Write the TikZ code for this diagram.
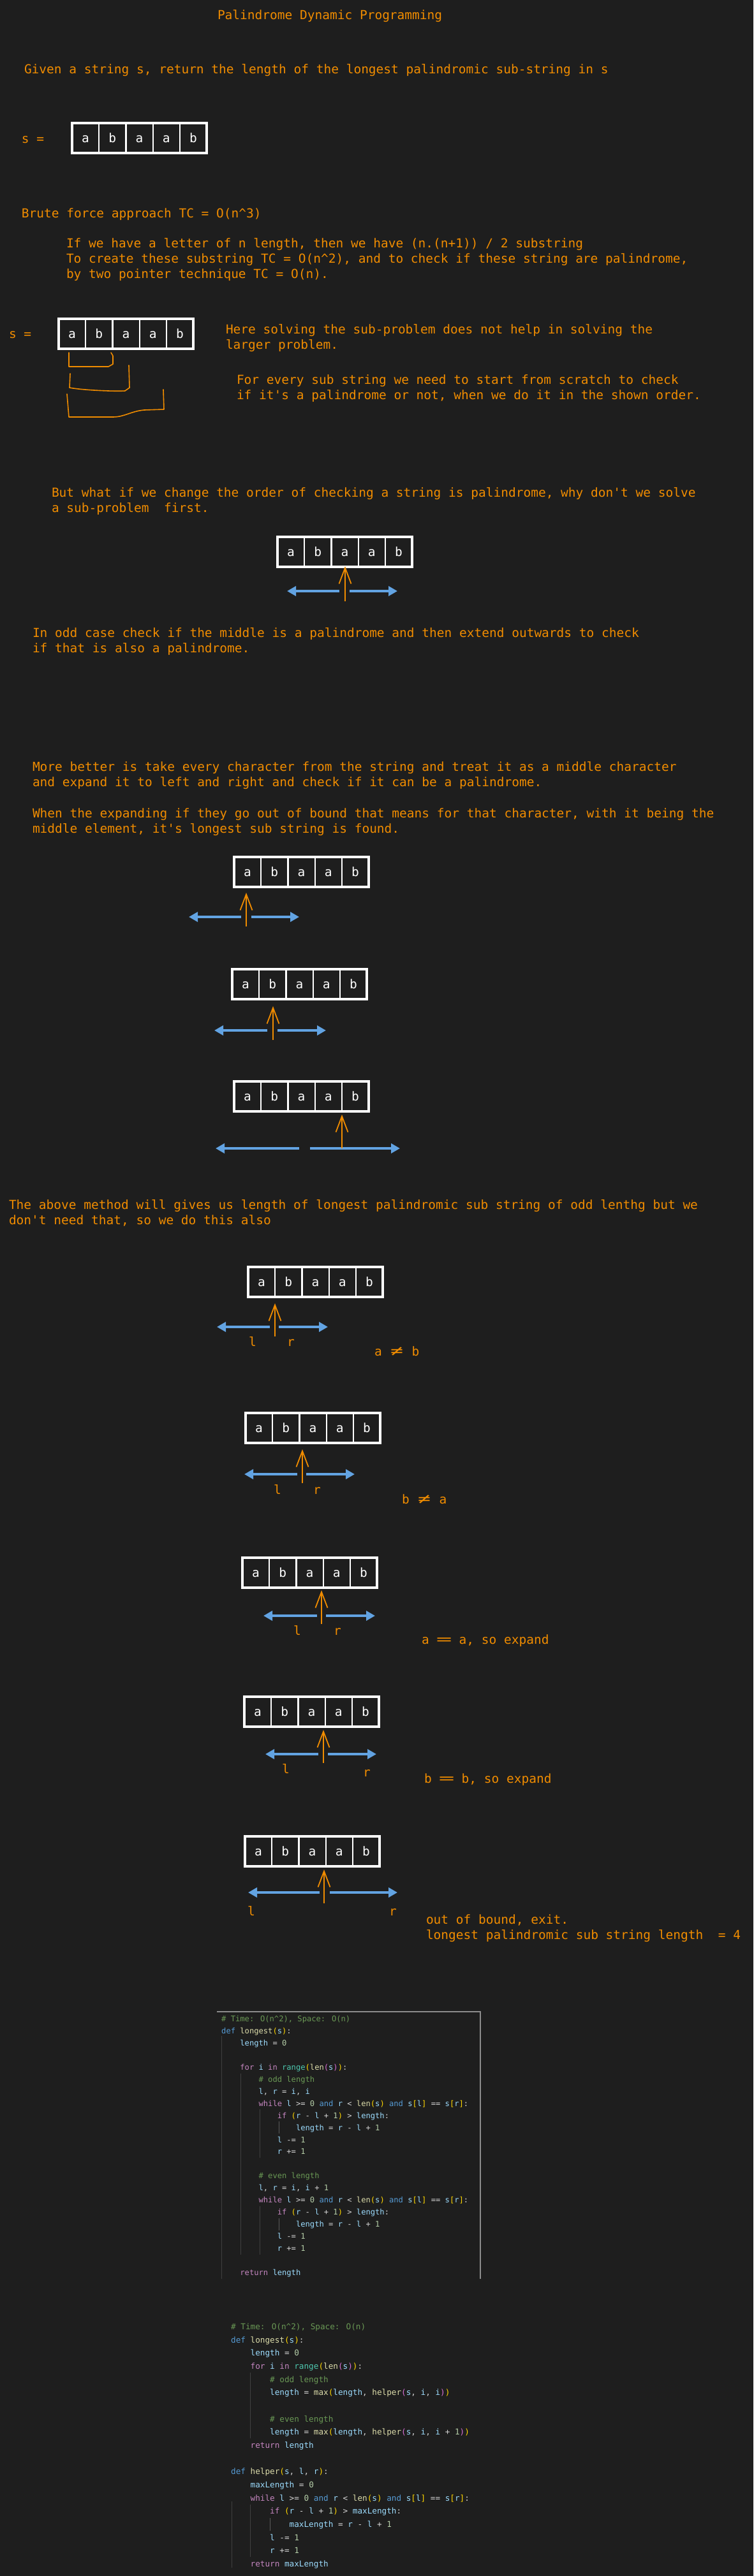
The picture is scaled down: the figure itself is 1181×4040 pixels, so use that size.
\documentclass[tikz,border=0pt]{standalone}
\usepackage{fontspec}
\usepackage{graphicx}
\usetikzlibrary{arrows.meta}
\newfontfamily\mono{DejaVu Sans Mono}
\definecolor{bg}{HTML}{1E1E1E}
\definecolor{ora}{HTML}{F08C00}
\definecolor{blu}{HTML}{62A3E2}
\definecolor{ckw}{HTML}{569CD6}
\definecolor{cctl}{HTML}{C586C0}
\definecolor{cfn}{HTML}{DCDCAA}
\definecolor{cvar}{HTML}{9CDCFE}
\definecolor{cnum}{HTML}{B5CEA8}
\definecolor{cty}{HTML}{4EC9B0}
\definecolor{ccom}{HTML}{6A9955}
\definecolor{cop}{HTML}{D4D4D4}
\definecolor{brA}{HTML}{FFD700}
\definecolor{brB}{HTML}{DA70D6}
\definecolor{guidec}{HTML}{404040}
\definecolor{guidebc}{HTML}{5A5A5A}
\definecolor{framec}{HTML}{8C8C8C}
\newlength\ccw
\newcommand\ind[1]{\hspace*{#1\ccw}}
\newcommand\cK[1]{\textcolor{ckw}{#1}}
\newcommand\cC[1]{\textcolor{cctl}{#1}}
\newcommand\cF[1]{\textcolor{cfn}{#1}}
\newcommand\cV[1]{\textcolor{cvar}{#1}}
\newcommand\cN[1]{\textcolor{cnum}{#1}}
\newcommand\cT[1]{\textcolor{cty}{#1}}
\newcommand\cG[1]{\textcolor{ccom}{#1}}
\newcommand\bA[1]{\textcolor{brA}{#1}}
\newcommand\bB[1]{\textcolor{brB}{#1}}
\newcommand\lines[1]{\begin{tabular}[t]{@{}l@{}}#1\end{tabular}}
\newcommand\neqw{\makebox[2\ccw][c]{\scalebox{1.7}[1.15]{≠}}}
\newcommand\eqw{\makebox[2\ccw][c]{\scalebox{2.1}[1.1]{=}}}
\newcommand\txtfont{\mono\fontsize{19.5}{24}\selectfont\settowidth\ccw{0}}
\newcommand\strbox[3]{%
  \foreach \ch [count=\i] in {a,b,a,a,b}{%
    \node[cell] (#1\i) at ({#2+(\i-0.5)*42.2},{#3+23.5}) {\ch};}
  \draw[outerbox] (#11.north west) rectangle (#15.south east);
}
\newcommand\ptrs[9]{%
  \coordinate (#1ot) at (#2,#3);
  \coordinate (#1ob) at (#2,#4);
  \coordinate (#1ls) at (#6,#5);
  \coordinate (#1le) at (#7,#5);
  \coordinate (#1rs) at (#8,#5);
  \coordinate (#1re) at (#9,#5);
  \draw[bluearr] (#1ls) -- (#1le);
  \draw[bluearr] (#1rs) -- (#1re);
  \draw[orarr] (#1ob) -- (#1ot);
}
\begin{document}
\begin{tikzpicture}[x=1pt,y=-1pt,
  txt/.style={font=\txtfont, text=ora, anchor=base west, inner sep=0pt, outer sep=0pt},
  cell/.style={draw=white, line width=2.2pt, minimum width=42.2pt, minimum height=47pt,
    inner sep=0pt, outer sep=0pt, font=\mono\fontsize{19.5}{24}\selectfont, text=white,
    text height=14.8pt, text depth=0pt},
  outerbox/.style={draw=white, line width=3.2pt},
  bluearr/.style={draw=blu, line width=4pt, -{Triangle[length=14pt,width=15pt]}},
  orarr/.style={draw=ora, line width=1.8pt, -{Straight Barb[length=25pt,width=19pt]}},
  brk/.style={draw=ora, line width=1.6pt, line join=round, line cap=round},
  codeA/.style={font=\mono\fontsize{12.13}{18.95}\selectfont\settowidth\ccw{0}, text=cop, anchor=base west, inner sep=0pt},
  codeB/.style={font=\mono\fontsize{12.67}{20.67}\selectfont\settowidth\ccw{0}, text=cop, anchor=base west, inner sep=0pt},
  guide/.style={draw=guidec, line width=1pt},
  guideb/.style={draw=guidebc, line width=1pt},
  framel/.style={draw=framec, line width=1.2pt}]
\fill[bg] (0,0) rectangle (1181,4040);
\useasboundingbox (0,0) rectangle (1181,4040);

\node[txt] (title) at (341,30) {Palindrome Dynamic Programming};
\node[txt] (given) at (38,115) {Given a string s, return the length of the longest palindromic sub-string in s};
\node[txt] (sA) at (34,224) {s =};
\strbox{A}{113}{193}
\node[txt] (brute) at (34,341) {Brute force approach TC = O(n\textasciicircum 3)};
\node[txt] (ifwe) at (104,388) {\lines{If we have a letter of n length, then we have (n.(n+1)) / 2 substring\\
To create these substring TC = O(n\textasciicircum 2), and to check if these string are palindrome,\\
by two pointer technique TC = O(n).}};

\node[txt] (sB) at (14,530) {s =};
\strbox{B}{92}{500}
\node[txt] (here) at (354,523) {\lines{Here solving the sub-problem does not help in solving the\\larger problem.}};
\node[txt] (forevery) at (371,602) {\lines{For every sub string we need to start from scratch to check\\if it's a palindrome or not, when we do it in the shown order.}};
\draw[brk] (108,553) -- (108,575) -- (170,575) -- (177,571) -- (177,558) -- (174,553);
\draw[brk] (110,586) -- (109,608) .. controls (130,612) and (180,614) .. (196,613) -- (203,608) -- (202,573);
\draw[brk] (105,618) -- (108,654) -- (177,654) .. controls (195,654) and (205,645) .. (226,643) -- (257,642) -- (256,611);

\node[txt] (butwhat) at (81,779) {\lines{But what if we change the order of checking a string is palindrome, why don't we solve\\a sub-problem\ \ first.}};
\strbox{C}{435}{842}
\ptrs{pC}{541}{888}{943}{927}{532}{450}{548}{623}
\node[txt] (odd) at (51,999) {\lines{In odd case check if the middle is a palindrome and then extend outwards to check\\if that is also a palindrome.}};
\node[txt] (more) at (51,1209) {\lines{More better is take every character from the string and treat it as a middle character\\and expand it to left and right and check if it can be a palindrome.}};
\node[txt] (when) at (51,1282) {\lines{When the expanding if they go out of bound that means for that character, with it being the\\middle element, it's longest sub string is found.}};

\strbox{D}{367}{1344}
\ptrs{pD}{386}{1400}{1453}{1438}{378}{296}{394}{469}
\strbox{F}{364}{1520}
\ptrs{pF}{428}{1578}{1631}{1616}{419}{336}{435}{511}
\strbox{G}{367}{1696}
\ptrs{pG}{536}{1748}{1801}{1801}{469}{338}{486}{627}

\node[txt] (above) at (14,1896) {\lines{The above method will gives us length of longest palindromic sub string of odd lenthg but we\\don't need that, so we do this also}};

\strbox{H}{389}{1987}
\ptrs{pH}{431}{2044}{2096}{2081}{423}{340}{437}{514}
\node[txt] (lH) at (390,2111) {l};
\node[txt] (rH) at (450,2111) {r};
\node[txt] (mH) at (587,2126) {a \neqw\ b};

\strbox{I}{385}{2216}
\ptrs{pI}{474}{2273}{2326}{2312}{466}{383}{480}{556}
\node[txt] (lI) at (429,2343) {l};
\node[txt] (rI) at (491,2343) {r};
\node[txt] (mI) at (630,2358) {b \neqw\ a};

\strbox{J}{380}{2443}
\ptrs{pJ}{504}{2494}{2547}{2534}{497}{413}{511}{588}
\node[txt] (lJ) at (460,2564) {l};
\node[txt] (rJ) at (523,2564) {r};
\node[txt] (mJ) at (661,2578) {a \eqw\ a, so expand};

\strbox{K}{383}{2661}
\ptrs{pK}{507}{2713}{2765}{2751}{499}{416}{514}{590}
\node[txt] (lK) at (442,2781) {l};
\node[txt] (rK) at (569,2786) {r};
\node[txt] (mK) at (665,2796) {b \eqw\ b, so expand};

\strbox{L}{384}{2880}
\ptrs{pL}{508}{2932}{2985}{2968}{501}{389}{517}{623}
\node[txt] (lL) at (388,3004) {l};
\node[txt] (rL) at (610,3004) {r};
\node[txt] (mL) at (668,3017) {\lines{out of bound, exit.\\longest palindromic sub string length\ \ = 4}};

% code block 1
\draw[framel] (340,3155) -- (753,3155) -- (753,3574);
\draw[guide] (347,3193) -- (347,3574);
\draw[guide] (377,3252) -- (377,3536);
\draw[guide] (407,3308) -- (407,3384);
\draw[guide] (407,3460) -- (407,3536);
\draw[guideb] (437,3327) -- (437,3346);
\draw[guideb] (437,3479) -- (437,3498);
\node[codeA] (codeone) at (347,3170.5) {\lines{%
\cG{\# Time: O(n\textasciicircum 2), Space: O(n)}\\
\cK{def} \cF{longest}\bA{(}\cV{s}\bA{)}:\\
\ind{4}\cV{length} = \cN{0}\\
\\
\ind{4}\cC{for} \cV{i} \cC{in} \cT{range}\bA{(}\cF{len}\bB{(}\cV{s}\bB{)}\bA{)}:\\
\ind{8}\cG{\# odd length}\\
\ind{8}\cV{l}, \cV{r} = \cV{i}, \cV{i}\\
\ind{8}\cC{while} \cV{l} >= \cN{0} \cK{and} \cV{r} < \cF{len}\bA{(}\cV{s}\bA{)} \cK{and} \cV{s}\bA{[}\cV{l}\bA{]} == \cV{s}\bA{[}\cV{r}\bA{]}:\\
\ind{12}\cC{if} \bA{(}\cV{r} - \cV{l} + \cN{1}\bA{)} > \cV{length}:\\
\ind{16}\cV{length} = \cV{r} - \cV{l} + \cN{1}\\
\ind{12}\cV{l} -= \cN{1}\\
\ind{12}\cV{r} += \cN{1}\\
\\
\ind{8}\cG{\# even length}\\
\ind{8}\cV{l}, \cV{r} = \cV{i}, \cV{i} + \cN{1}\\
\ind{8}\cC{while} \cV{l} >= \cN{0} \cK{and} \cV{r} < \cF{len}\bA{(}\cV{s}\bA{)} \cK{and} \cV{s}\bA{[}\cV{l}\bA{]} == \cV{s}\bA{[}\cV{r}\bA{]}:\\
\ind{12}\cC{if} \bA{(}\cV{r} - \cV{l} + \cN{1}\bA{)} > \cV{length}:\\
\ind{16}\cV{length} = \cV{r} - \cV{l} + \cN{1}\\
\ind{12}\cV{l} -= \cN{1}\\
\ind{12}\cV{r} += \cN{1}\\
\\
\ind{4}\cC{return} \cV{length}}};

% code block 2
\draw[guide] (392,3721) -- (392,3824);
\draw[guide] (363,3923) -- (363,4027);
\draw[guide] (392,3928) -- (392,4010);
\draw[guideb] (423,3949) -- (423,3969);
\node[codeB] (codetwo) at (362,3653.5) {\lines{%
\cG{\# Time: O(n\textasciicircum 2), Space: O(n)}\\
\cK{def} \cF{longest}\bA{(}\cV{s}\bA{)}:\\
\ind{4}\cV{length} = \cN{0}\\
\ind{4}\cC{for} \cV{i} \cC{in} \cT{range}\bA{(}\cF{len}\bB{(}\cV{s}\bB{)}\bA{)}:\\
\ind{8}\cG{\# odd length}\\
\ind{8}\cV{length} = \cF{max}\bA{(}\cV{length}, \cF{helper}\bB{(}\cV{s}, \cV{i}, \cV{i}\bB{)}\bA{)}\\
\\
\ind{8}\cG{\# even length}\\
\ind{8}\cV{length} = \cF{max}\bA{(}\cV{length}, \cF{helper}\bB{(}\cV{s}, \cV{i}, \cV{i} + \cN{1}\bB{)}\bA{)}\\
\ind{4}\cC{return} \cV{length}\\
\\
\cK{def} \cF{helper}\bA{(}\cV{s}, \cV{l}, \cV{r}\bA{)}:\\
\ind{4}\cV{maxLength} = \cN{0}\\
\ind{4}\cC{while} \cV{l} >= \cN{0} \cK{and} \cV{r} < \cF{len}\bA{(}\cV{s}\bA{)} \cK{and} \cV{s}\bA{[}\cV{l}\bA{]} == \cV{s}\bA{[}\cV{r}\bA{]}:\\
\ind{8}\cC{if} \bA{(}\cV{r} - \cV{l} + \cN{1}\bA{)} > \cV{maxLength}:\\
\ind{12}\cV{maxLength} = \cV{r} - \cV{l} + \cN{1}\\
\ind{8}\cV{l} -= \cN{1}\\
\ind{8}\cV{r} += \cN{1}\\
\ind{4}\cC{return} \cV{maxLength}}};
\end{tikzpicture}
\end{document}
